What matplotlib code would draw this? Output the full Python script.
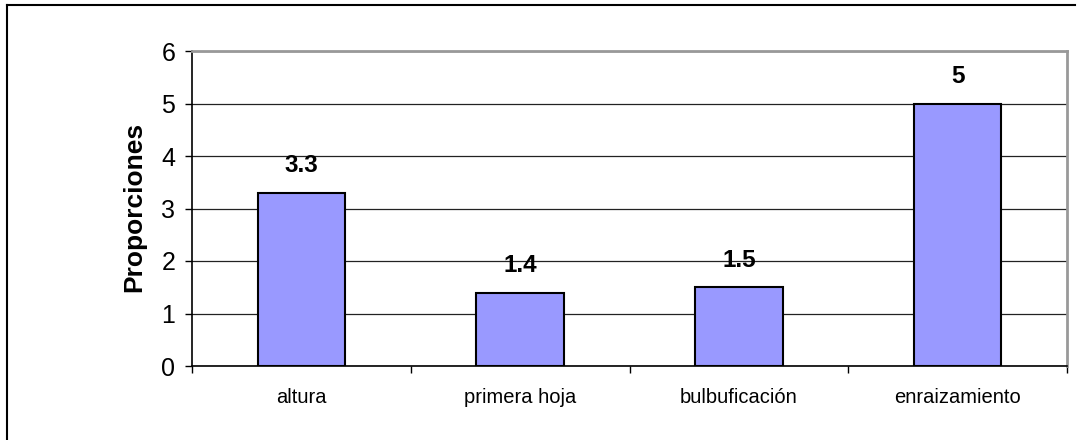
import matplotlib
matplotlib.use("Agg")
import matplotlib.pyplot as plt
from matplotlib.lines import Line2D
import numpy as np

categories = ["altura", "primera hoja", "bulbuficación", "enraizamiento"]
values = [3.3, 1.4, 1.5, 5]
value_labels = ["3.3", "1.4", "1.5", "5"]
yticks = [0, 1, 2, 3, 4, 5, 6]

plt.rcParams['font.family'] = ['Liberation Sans', 'DejaVu Sans']

W, H = 1077, 440
fig = plt.figure(figsize=(W / 100, H / 100), dpi=100)
ax = fig.add_axes([192 / W, 1 - 366 / H, (1067 - 192) / W, (366 - 51) / H])

x = np.arange(len(categories))
ax.bar(x, values, width=0.4, color="#9999FF", edgecolor="black", linewidth=1.5, zorder=3)

for xi, v, lab in zip(x, values, value_labels):
    ax.annotate(lab, (xi, v), xytext=(0, 19.5), textcoords="offset points",
                ha="center", va="center", fontsize=17.5, fontweight="bold", zorder=4)

ax.set_xlim(-0.5, len(categories) - 0.5)
ax.set_ylim(0, 6)
ax.set_yticks(yticks)
ax.tick_params(axis="y", direction="out", length=5, width=1, labelsize=18, pad=7)
ax.yaxis.grid(True, color="#222222", linewidth=0.9, zorder=0)
ax.set_axisbelow(True)

# major ticks at category boundaries, labels at centers
ax.set_xticks(np.arange(-0.5, len(categories), 1.0))
ax.set_xticklabels([])
ax.set_xticks(x, minor=True)
ax.set_xticklabels(categories, minor=True)
ax.tick_params(axis="x", which="major", direction="out", length=5, width=1)
ax.tick_params(axis="x", which="minor", length=0, labelsize=14.5, pad=16)

for side in ("left", "bottom"):
    ax.spines[side].set_color("black")
    ax.spines[side].set_linewidth(1.2)
for side in ("top", "right"):
    ax.spines[side].set_color("#999999")
    ax.spines[side].set_linewidth(2)

ax.set_ylabel("Proporciones", fontsize=19, fontweight="bold", labelpad=10)
ax.yaxis.set_label_coords((146 - 192) / (1067 - 192), (366 - 207) / (366 - 51))

# outer frame (top and left edges)
fig.add_artist(Line2D([7 / W, 1075 / W], [1 - 5 / H, 1 - 5 / H], color="black", linewidth=1.5,
                      transform=fig.transFigure))
fig.add_artist(Line2D([7 / W, 7 / W], [1 - 5 / H, 0], color="black", linewidth=1.5,
                      transform=fig.transFigure))

fig.savefig("out.png", dpi=100)
